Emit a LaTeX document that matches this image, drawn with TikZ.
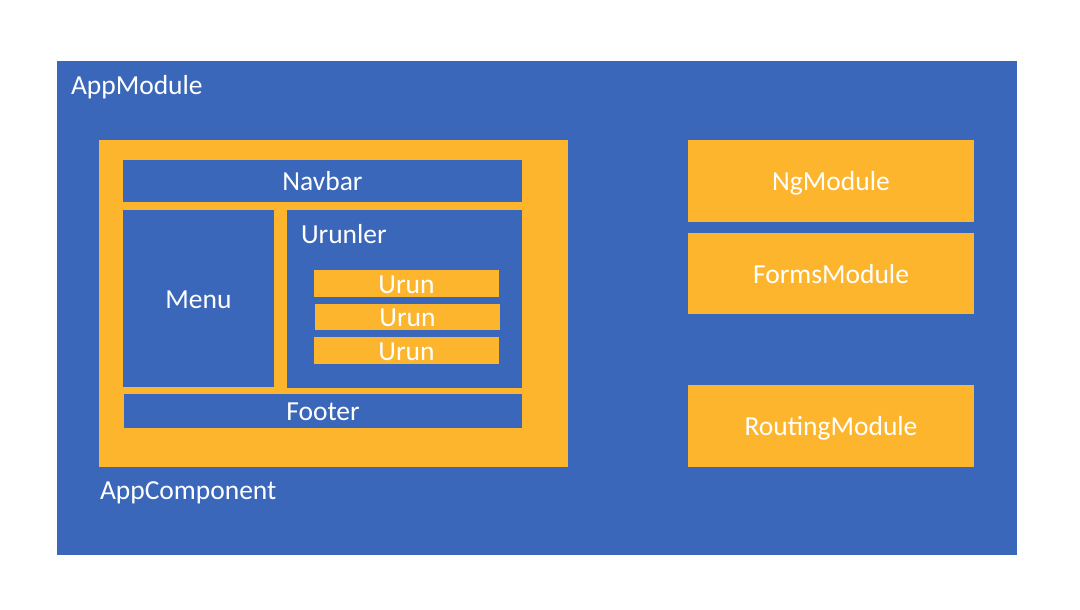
\documentclass[tikz,border=0pt]{standalone}
\usepackage{fontspec}
\setmainfont{Carlito}
\definecolor{bluebg}{RGB}{58,103,185}
\definecolor{goldbg}{RGB}{253,181,45}
\begin{document}
\begin{tikzpicture}[x=1pt,y=-1pt,
  every node/.style={font=\fontsize{27.5}{30}\selectfont, text=white, inner sep=0pt, outer sep=0pt},
  gbox/.style={fill=goldbg, anchor=north west, text height=19.5pt, text depth=0pt},
  bbox/.style={fill=bluebg, anchor=north west, text height=19.5pt, text depth=0pt},
  lbl/.style={anchor=base west}]
\useasboundingbox (0,0) rectangle (1080,610);
\fill[white] (0,0) rectangle (1080,610);
% outer module
\node[bbox, minimum width=960pt, minimum height=494pt] (appmodule) at (57,61) {};
\node[lbl] (appmodulelbl) at (71,95) {AppModule};
% app component
\node[gbox, minimum width=469pt, minimum height=327pt] (appcomp) at (99,140) {};
\node[lbl] (appcomplbl) at (100,499) {AppComponent};
\node[bbox, minimum width=399pt, minimum height=42pt] (navbar) at (123,160) {Navbar};
\node[bbox, minimum width=151pt, minimum height=177pt] (menu) at (123,210) {Menu};
\node[bbox, minimum width=235pt, minimum height=178pt] (urunler) at (287,210) {};
\node[lbl] (urunlerlbl) at (301,243) {Urunler};
\node[gbox, minimum width=185pt, minimum height=27pt] (urun1) at (314,270) {Urun};
\node[gbox, minimum width=185pt, minimum height=26pt] (urun2) at (315,304) {Urun};
\node[gbox, minimum width=185pt, minimum height=27pt] (urun3) at (314,337) {Urun};
\node[bbox, minimum width=398pt, minimum height=34pt] (footer) at (124,394) {Footer};
% right modules
\node[gbox, minimum width=286pt, minimum height=82pt] (ngmodule) at (688,140) {NgModule};
\node[gbox, minimum width=286pt, minimum height=81pt] (formsmodule) at (688,233) {FormsModule};
\node[gbox, minimum width=286pt, minimum height=82pt] (routingmodule) at (688,385) {RoutingModule};
\end{tikzpicture}
\end{document}
